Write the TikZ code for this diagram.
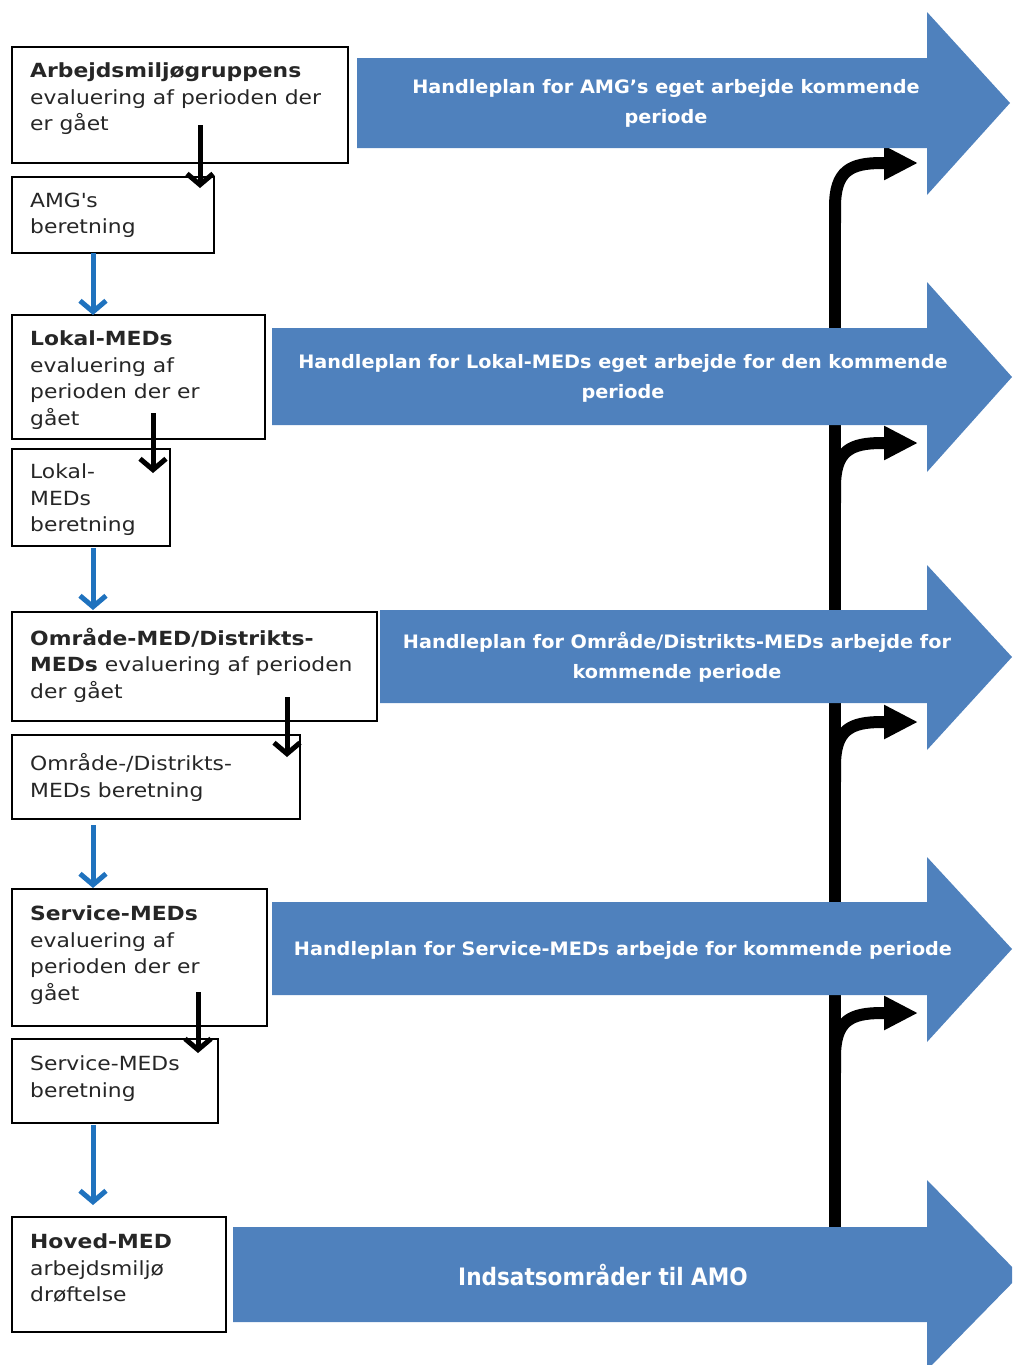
\documentclass[tikz,border=0pt]{standalone}
\usepackage{fontspec}
\setmainfont{DejaVu Sans}[FakeStretch=1.12]
\newfontfamily\bandfont{DejaVu Sans}[FakeStretch=1.04]
\newfontfamily\bigbandfont{DejaVu Sans}[FakeStretch=0.9]
\usetikzlibrary{arrows.meta,calc}
\definecolor{bandblue}{HTML}{4F81BD}
\definecolor{flowblue}{HTML}{1F72BE}

\begin{document}
\begin{tikzpicture}[x=1pt,y=-1pt,
  box/.style={draw=black, line width=1.6pt, anchor=north west, inner sep=0pt, outer sep=0pt},
  boxtext/.style={anchor=north west, align=left, inner sep=0pt,
    font=\fontsize{19.5}{26.5}\selectfont, text=black!85,
    execute at begin node=\strut},
  bandtext/.style={align=center, text=white, inner sep=0pt,
    font=\bandfont\bfseries\fontsize{18.5}{30}\selectfont},
  stepdown/.style={draw=black, line width=5pt, -{Straight Barb[length=11pt,width=26pt]}},
  flowdown/.style={draw=flowblue, line width=5pt, -{Straight Barb[length=11pt,width=26pt]}},
  trunk/.style={draw=black, line width=12pt},
  branch/.style={draw=black, line width=12pt, -{Triangle[length=34pt,width=32pt]}},
]
\useasboundingbox (0,0) rectangle (1012,1365);
\clip (0,0) rectangle (1012,1365);

% vertical feedback trunk, behind the bands
\coordinate (trunktop) at (835,223);
\coordinate (trunkbot) at (835,1227);
\draw[trunk] (trunktop) -- (trunkbot);

% branches turning right into the next band up
\foreach \n/\y in {1/163,2/443,3/722,4/1013} {
  \coordinate (h\n) at (918,\y);
  \draw[branch] (835,\y+60) -- (835,\y+44) .. controls (835,\y+8) and (850,\y) .. (882,\y) -- (h\n);
}

% blue bands
\fill[bandblue] (357,58) -- (927,58) -- (927,12) -- (1010,103) -- (927,195) -- (927,148) -- (357,148) -- cycle;
\fill[bandblue] (272,328) -- (927,328) -- (927,282) -- (1012,377) -- (927,472) -- (927,425) -- (272,425) -- cycle;
\fill[bandblue] (380,610) -- (927,610) -- (927,565) -- (1012,657) -- (927,750) -- (927,703) -- (380,703) -- cycle;
\fill[bandblue] (272,902) -- (927,902) -- (927,857) -- (1012,949) -- (927,1042) -- (927,995) -- (272,995) -- cycle;
\fill[bandblue] (233,1227) -- (927,1227) -- (927,1180) -- (1020,1275) -- (927,1370) -- (927,1322) -- (233,1322) -- cycle;

\node[bandtext] (p1) at (666,103) {Handleplan for AMG’s eget arbejde kommende\\periode};
\node[bandtext] (p2) at (623,378) {Handleplan for Lokal-MEDs eget arbejde for den kommende\\periode};
\node[bandtext] (p3) at (677,657) {Handleplan for Område/Distrikts-MEDs arbejde for\\kommende periode};
\node[bandtext] (p4) at (623,950) {Handleplan for Service-MEDs arbejde for kommende periode};
\node[bandtext, font=\bigbandfont\bfseries\fontsize{24}{30}\selectfont] (p5) at (603,1275) {Indsatsområder til AMO};

% boxes on the left
\node[box, minimum width=336pt, minimum height=116pt] (a1) at (12,47) {};
\node[box, minimum width=202pt, minimum height=76pt]  (a2) at (12,177) {};
\node[box, minimum width=253pt, minimum height=124pt] (b1) at (12,315) {};
\node[box, minimum width=158pt, minimum height=97pt]  (b2) at (12,449) {};
\node[box, minimum width=365pt, minimum height=109pt] (c1) at (12,612) {};
\node[box, minimum width=288pt, minimum height=84pt]  (c2) at (12,735) {};
\node[box, minimum width=255pt, minimum height=137pt] (d1) at (12,889) {};
\node[box, minimum width=206pt, minimum height=84pt]  (d2) at (12,1039) {};
\node[box, minimum width=214pt, minimum height=115pt] (e)  at (12,1217) {};

% texts: node top sits 14.5pt above the first baseline
\node[boxtext] (a1t) at (30,77-14.5) {\textbf{Arbejdsmiljøgruppens}\\evaluering af perioden der\\er gået};
\node[boxtext] (a2t) at (30,207-14.5) {AMG\textquotesingle s\\beretning};
\node[boxtext] (b1t) at (30,345-14.5) {\textbf{Lokal-MEDs}\\evaluering af\\perioden der er\\gået};
\node[boxtext] (b2t) at (30,478-14.5) {Lokal-\\MEDs\\beretning};
\node[boxtext] (c1t) at (30,642-14.5) {\textbf{Område-MED/Distrikts-}\\\textbf{MEDs} evaluering af perioden\\der gået};
\node[boxtext] (c2t) at (30,768-14.5) {Område-/Distrikts-\\MEDs beretning};
\node[boxtext] (d1t) at (30,920-14.5) {\textbf{Service-MEDs}\\evaluering af\\perioden der er\\gået};
\node[boxtext] (d2t) at (30,1070-14.5) {Service-MEDs\\beretning};
\node[boxtext] (et)  at (30,1248-14.5) {\textbf{Hoved-MED}\\arbejdsmiljø\\drøftelse};

% evaluation -> report
\draw[stepdown] ($(a1.north west)+(188,78)$) -- ($(a2.north west)+(188,11)$);
\draw[stepdown] ($(b1.north west)+(141,98)$) -- ($(b2.north west)+(141,24)$);
\draw[stepdown] ($(c1.north west)+(275,85)$) -- ($(c2.north west)+(275,22)$);
\draw[stepdown] ($(d1.north west)+(186,103)$) -- ($(d2.north west)+(186,14)$);

% report -> next level
\draw[flowdown] ($(a2.south west)+(81,0)$) -- ($(b1.north west)+(81,0)$);
\draw[flowdown] ($(b2.south west)+(81,2)$) -- ($(c1.north west)+(81,-2)$);
\draw[flowdown] ($(c2.south west)+(81,6)$) -- ($(d1.north west)+(81,-1)$);
\draw[flowdown] ($(d2.south west)+(81,2)$) -- ($(e.north west)+(81,-12)$);
\end{tikzpicture}
\end{document}
